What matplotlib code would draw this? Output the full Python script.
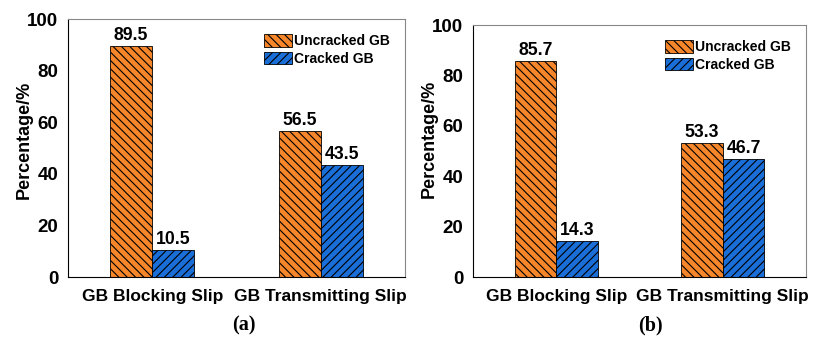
import matplotlib.pyplot as plt
import numpy as np

plt.rcParams['font.family'] = ['Liberation Sans', 'DejaVu Sans']
plt.rcParams['font.weight'] = 'bold'
plt.rcParams['hatch.linewidth'] = 0.8

cats = ["GB Blocking Slip", "GB Transmitting Slip"]
uncracked_a = [89.5, 56.5]
cracked_a = [10.5, 43.5]
uncracked_b = [85.7, 53.3]
cracked_b = [14.3, 46.7]
panel_labels = ["(a)", "(b)"]

orange = "#F5862A"
blue = "#1A6ED8"

fig = plt.figure(figsize=(8.14, 3.39), dpi=100)
ax1 = fig.add_axes([68/814, 62/339, 337/814, 258/339])
ax2 = fig.add_axes([473/814, 62/339, 333/814, 252/339])

def draw(ax, unc, cr, lab, labx, ylab_y):
    x = np.arange(len(cats))
    w = 0.25
    b1 = ax.bar(x - w/2, unc, w, color=orange, edgecolor="black", hatch="\\\\\\\\", linewidth=0.6, label="Uncracked GB")
    b2 = ax.bar(x + w/2, cr, w, color=blue, edgecolor="black", hatch="////", linewidth=0.6, label="Cracked GB")
    for bars in (b1, b2):
        for r in bars:
            ax.text(r.get_x() + r.get_width()/2, r.get_height() + 0.8, "%.1f" % r.get_height(),
                    ha="center", va="bottom", fontsize=12.7, fontweight="bold")
    ax.set_xlim(-0.5, 1.5)
    ax.set_ylim(0, 100)
    ax.set_yticks([0, 20, 40, 60, 80, 100])
    ax.set_xticks(x)
    ax.set_xticklabels(cats, fontsize=12.5, fontweight="bold")
    ax.tick_params(axis="both", length=0)
    ax.tick_params(axis="x", pad=9, labelsize=12.5)
    ax.tick_params(axis="y", pad=7, labelsize=13.5)
    ax.set_ylabel("Percentage/%", fontsize=13, fontweight="bold")
    ax.yaxis.set_label_coords(-0.105, ylab_y)
    for s in ("top", "right"):
        ax.spines[s].set_color("#888888")
    ax.legend(loc="upper right", frameon=False, fontsize=10, handlelength=2.0, handleheight=1.0,
              labelspacing=0.25, handletextpad=0.15, borderaxespad=0.7)
    fig.text(labx, 14/339, lab, ha="center", va="center", fontsize=14.5, fontweight="bold",
             family="Liberation Serif")

draw(ax1, uncracked_a, cracked_a, panel_labels[0], 244/814, 0.53)
draw(ax2, uncracked_b, cracked_b, panel_labels[1], 650/814, 0.55)

fig.savefig("out.png", dpi=100)
